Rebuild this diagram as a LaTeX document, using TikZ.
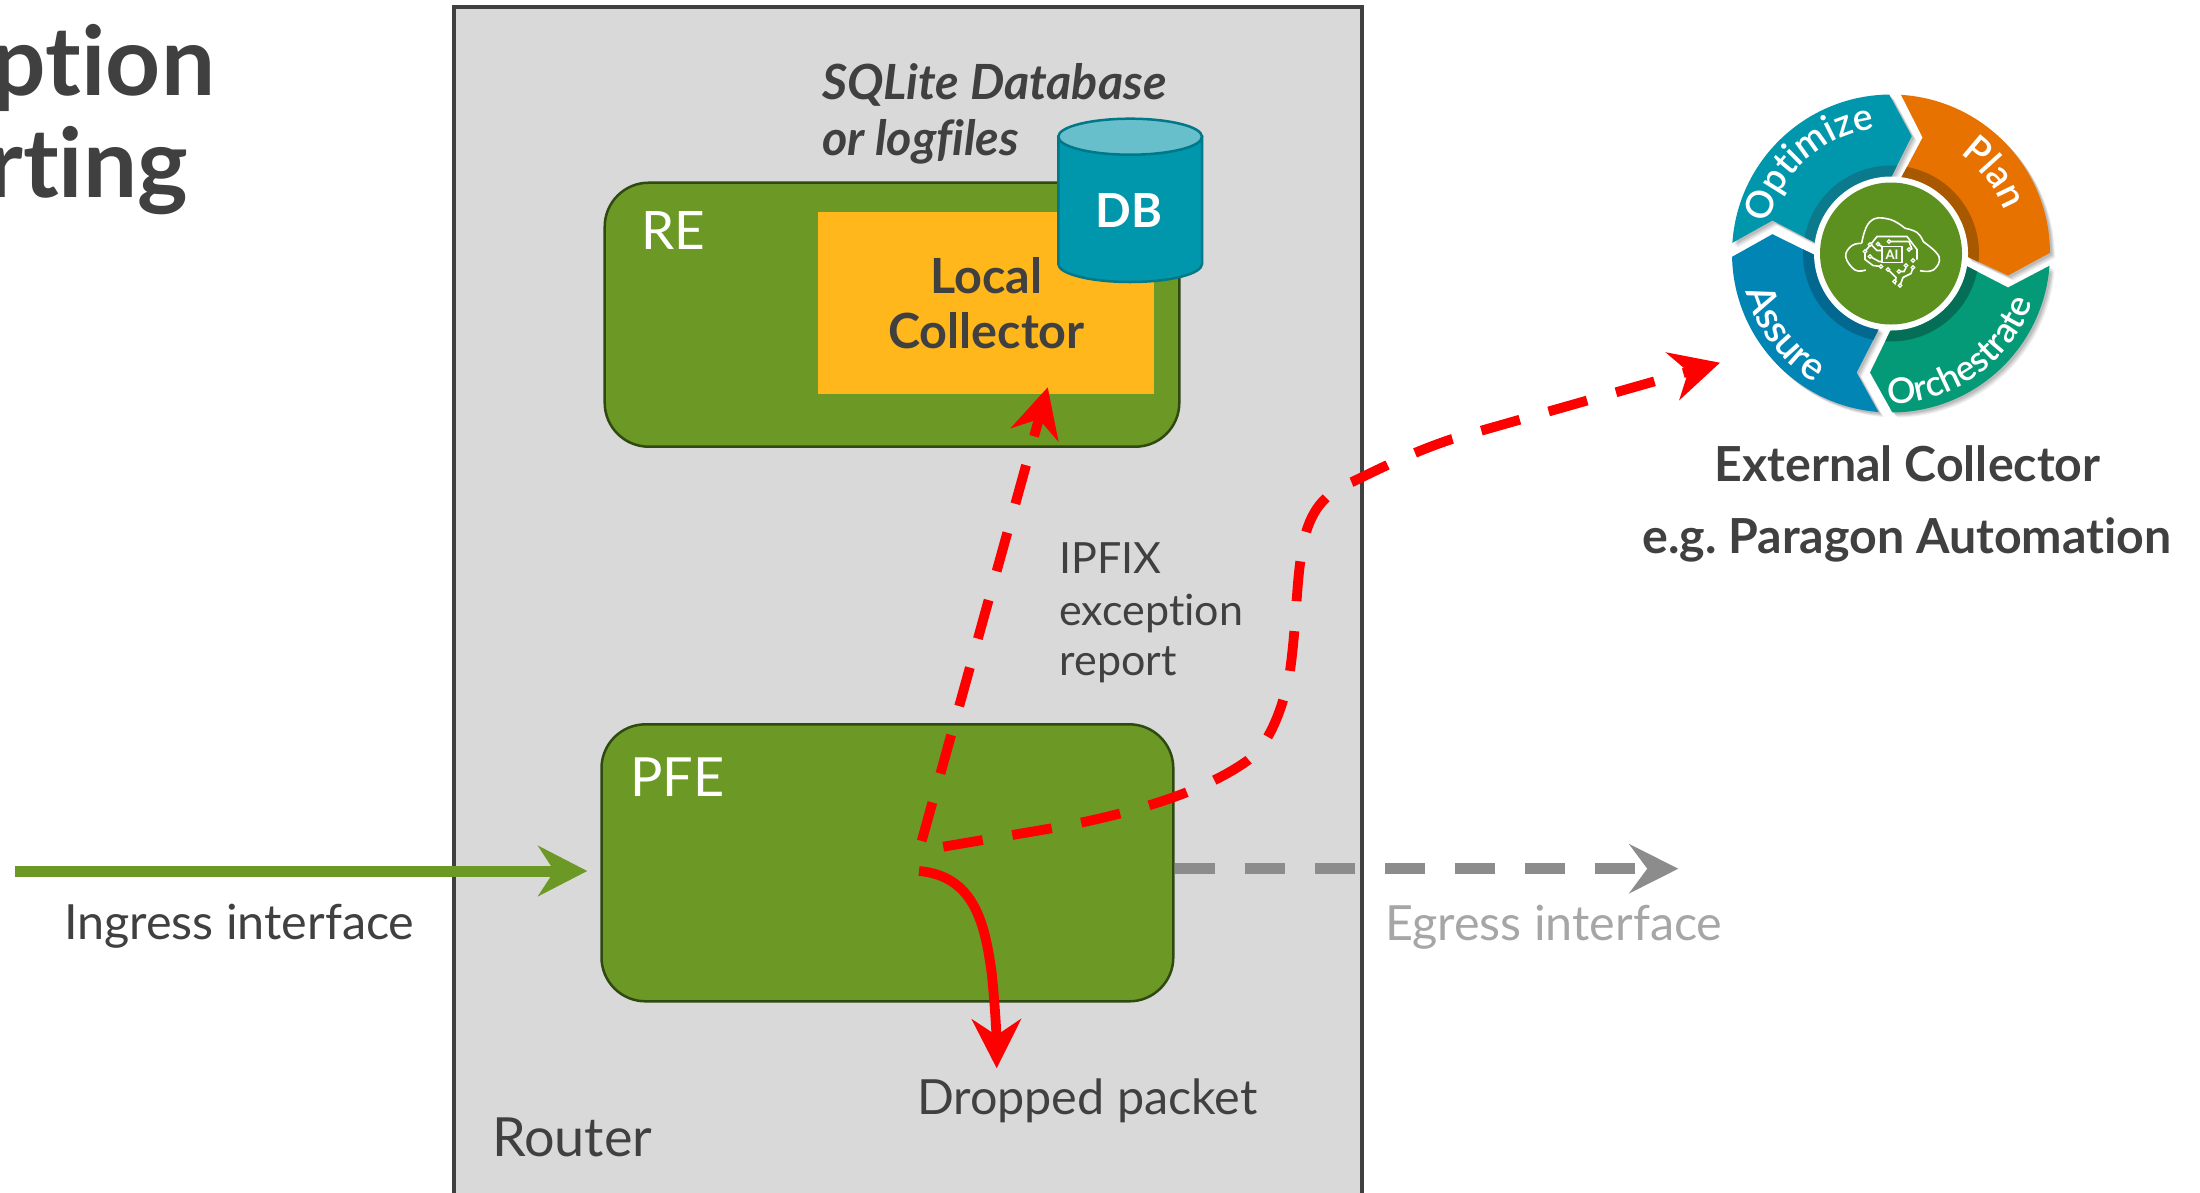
\documentclass[tikz,border=0pt]{standalone}
\usepackage{fontspec}
\setmainfont{Lato}[Ligatures=NoCommon]
\newfontfamily\latosemi{Lato}[UprightFont=* Semibold,ItalicFont=* Semibold Italic,Ligatures=NoCommon]
\usetikzlibrary{arrows.meta,decorations.text}
\definecolor{txt}{HTML}{404040}
\definecolor{greenbox}{HTML}{6C9826}
\definecolor{greenedge}{HTML}{2F4A10}
\definecolor{routerfill}{HTML}{D9D9D9}
\definecolor{routeredge}{HTML}{404040}
\definecolor{lc}{HTML}{FFB71B}
\definecolor{dbbody}{HTML}{0097AC}
\definecolor{dbtop}{HTML}{67BFCB}
\definecolor{dbedge}{HTML}{00788A}
\definecolor{greyline}{HTML}{8C8C8C}
\definecolor{greytxt}{HTML}{A6A6A6}
\definecolor{redline}{HTML}{FF0000}
\definecolor{cOpt}{HTML}{0097AC}\definecolor{cOptD}{HTML}{0B7A8C}
\definecolor{cPlan}{HTML}{E87200}\definecolor{cPlanD}{HTML}{A85900}
\definecolor{cOrc}{HTML}{059A77}\definecolor{cOrcD}{HTML}{056E57}
\definecolor{cAss}{HTML}{0085B4}\definecolor{cAssD}{HTML}{03688F}
\definecolor{cCen}{HTML}{5C9120}
\newcommand{\fs}[1]{\fontsize{#1}{#1}\selectfont}
\newcommand{\secOpt}{(176.15:159) arc (176.15:90.65:159) -- (20.7,117.3) -- (0,76) arc (90:172:76) -- (-118.6,33) -- cycle}
\newcommand{\secPlan}{(86.4:159) arc (86.4:0.25:159) -- (117,-22) -- (76,-3) arc (-2.3:82.5:76) -- (31.6,116) -- cycle}
\newcommand{\secOrc}{(-4.4:159) arc (-4.4:-89.5:159) -- (-21,-119) -- (0,-76) arc (-90:-9.3:76) -- (117,-34) -- cycle}
\newcommand{\secAss}{(265.5:159) arc (265.5:181.2:159) -- (-118.6,19.3) -- (-76,-1.7) arc (181.3:261:76) -- (-34.4,-119) -- cycle}
\tikzset{
  x=1pt,y=1pt,
  label/.style={inner sep=0pt,outer sep=0pt,text=txt,font=\fs{48.5}},
  boxgreen/.style={draw=greenedge,line width=2.5pt,fill=greenbox,rounded corners=44pt,inner sep=0pt,outer sep=0pt},
  redsolid/.style={draw=redline,line width=9.8pt,-{Stealth[length=49pt,width=49pt,inset=16pt]}},
  reddash/.style={redsolid,dash pattern=on 40pt off 30pt},
  greydash/.style={draw=greyline,line width=10.5pt,dash pattern=on 40pt off 30pt,-{Stealth[length=49pt,width=49pt,inset=18pt]}},
  ingress/.style={draw=greenbox,line width=11pt,-{Stealth[length=49pt,width=50pt,inset=16pt]}},
  wheeltxt/.style 2 args={decorate,decoration={text along path,text align={center},text={|\latosemi\fs{#1}\color{white}|#2}}},
  icon/.style={draw=white,line width=1.6pt,fill=none},
  dot/.style={draw=white,line width=1.2pt,fill=cCen},
}
\begin{document}
\begin{tikzpicture}
\useasboundingbox (0,0) rectangle (2200,-1192);
% title
\node[label,anchor=base east,font=\bfseries\fs{96}] (titleA) at (215,-95) {ption};
\node[label,anchor=base east,font=\bfseries\fs{96}] (titleB) at (188,-197) {rting};
% router
\node[draw=routeredge,fill=routerfill,line width=4pt,inner sep=0pt,outer sep=0pt,minimum width=908pt,minimum height=1203pt,anchor=north west] (router) at (454,-7) {};
\node[label,anchor=base west,font=\fs{54}] (routerlabel) at (492,-1156) {Router};
% RE
\node[boxgreen,minimum width=574.6pt,minimum height=264pt,anchor=north west] (re) at (604.7,-182.7) {};
\node[label,anchor=base west,text=white,font=\fs{53}] (relabel) at (641,-249.3) {RE};
\node[fill=lc,minimum width=335.4pt,minimum height=181.4pt,inner sep=0pt,outer sep=0pt,anchor=north west] (lc) at (818.3,-212.3) {};
\node[label,anchor=base,font=\bfseries\fs{48.5}] (lcA) at (986.5,-293) {Local};
\node[label,anchor=base,font=\bfseries\fs{48.5}] (lcB) at (986.5,-348) {Collector};
% DB
\path[fill=dbbody,draw=dbedge,line width=2.5pt] (1058.3,-136.7) -- (1058.3,-264) arc[start angle=180,end angle=360,x radius=71.85,y radius=18] -- (1202,-136.7) -- cycle;
\path[fill=dbtop,draw=dbedge,line width=2.5pt] (1130.15,-136.7) ellipse[x radius=71.85,y radius=18];
\node[label,anchor=base,text=white,font=\bfseries\fs{47}] (db) at (1129,-227.3) {DB};
\node[label,anchor=base west,font=\bfseries\itshape\fs{48.5}] (sqlA) at (822,-99.5) {SQLite Database};
\node[label,anchor=base west,font=\bfseries\itshape\fs{48.5}] (sqlB) at (822,-155.5) {or logfiles};
% PFE
\node[boxgreen,minimum width=571.8pt,minimum height=277pt,anchor=north west] (pfe) at (601.5,-724.3) {};
\node[label,anchor=base west,text=white,font=\fs{54}] (pfelabel) at (630,-796) {PFE};
% labels
\node[label,anchor=base west,font=\fs{43}] (ipA) at (1059.5,-573) {IPFIX};
\node[label,anchor=base west,font=\fs{43}] (ipB) at (1059.5,-625) {exception};
\node[label,anchor=base west,font=\fs{43}] (ipC) at (1059.5,-675) {report};
\node[label,anchor=base west] (ingresslabel) at (64,-939) {Ingress interface};
\node[label,anchor=base west,text=greytxt] (egresslabel) at (1385,-940) {Egress interface};
\node[label,anchor=base west] (droplabel) at (917,-1114) {Dropped packet};
\node[label,anchor=base,font=\bfseries\fs{48.3}] (extA) at (1907.5,-481.5) {External Collector};
\node[label,anchor=base,font=\bfseries\fs{48.3}] (extB) at (1907,-553.5) {e.g.\ Paragon Automation};
% coordinates
\coordinate (ingStart) at (15,-871);
\coordinate (ingTip) at (587.3,-871);
\coordinate (egStart) at (1175,-868.7);
\coordinate (egTip) at (1678.3,-868.7);
\coordinate (dropStart) at (919,-871);
\coordinate (dropTip) at (996.7,-1068.3);
\coordinate (upStart) at (921.7,-841);
\coordinate (upTip) at (1047.7,-387.3);
\coordinate (outStart) at (943.3,-846.7);
\coordinate (outTip) at (1720,-362.7);
% connectors
\draw[ingress] (ingStart) -- (ingTip);
\draw[greydash] (egStart) -- (egTip);
\draw[redsolid] (dropStart) .. controls (975,-876) and (985,-925) .. (991.7,-973) .. controls (995,-1005) and (996.5,-1035) .. (dropTip);
\draw[reddash] (upStart) -- (upTip);
\draw[reddash] (outStart) -- (1051.7,-828.3) .. controls (1120,-816) and (1200,-795) .. (1248.3,-760)
  .. controls (1272,-742) and (1285,-700) .. (1290,-671)
  .. controls (1297,-620) and (1296,-580) .. (1303,-545)
  .. controls (1308,-520) and (1318,-495) .. (1352,-482)
  .. controls (1375,-471) and (1410,-453) .. (1452,-439)
  -- (outTip);
% wheel
\begin{scope}[shift={(1891,-253.5)}]
  \foreach \o/\a in {5/.06,4/.07,3/.08,2/.09}{
    \fill[black,opacity=\a,shift={(\o,-\o)}] \secOpt;
    \fill[black,opacity=\a,shift={(\o,-\o)}] \secPlan;
    \fill[black,opacity=\a,shift={(\o,-\o)}] \secOrc;
    \fill[black,opacity=\a,shift={(\o,-\o)}] \secAss;
  }
  \fill[cOpt] \secOpt;
  \fill[cPlan] \secPlan;
  \fill[cOrc] \secOrc;
  \fill[cAss] \secAss;
  \begin{scope}\clip \secOpt; \fill[cOptD] (0,0) circle (88); \end{scope}
  \begin{scope}\clip \secPlan; \fill[cPlanD] (0,0) circle (88); \end{scope}
  \begin{scope}\clip \secOrc; \fill[cOrcD] (0,0) circle (88); \end{scope}
  \begin{scope}\clip \secAss; \fill[cAssD] (0,0) circle (88); \end{scope}
  \fill[white] (0,0) circle (77);
  \fill[cCen] (0,0) circle (71);
  \path[wheeltxt={37.5}{Optimize}] (172:126) arc (172:92:126);
  \path[wheeltxt={38}{Plan}] (62:121) arc (62:14:121);
  \path[wheeltxt={39}{Assure}] (190:150) arc (190:244:150);
  \path[wheeltxt={35.5}{Orchestrate}] (266:150) arc (266:344:150);
  % icon
  \draw[icon] plot[smooth,tension=.7] coordinates {(-25.3,-16.5) (-36,-16.5) (-45.3,-3.2) (-39.3,7.8) (-29.3,10.2)};
  \draw[icon] plot[smooth,tension=.8] coordinates {(-29.3,10.2) (-21,31.8) (-2.7,34.5) (14,25.2)};
  \draw[icon] plot[smooth,tension=.8] coordinates {(14,25.2) (26,21) (32.3,11.8)};
  \draw[icon] plot[smooth,tension=.7] coordinates {(32.3,11.8) (48,-3.2) (42.3,-16.5) (29,-17.2)};
  \draw[icon] (-26,2) -- (-14,17) -- (16,17) -- (26,4) -- (26,-6);
  \draw[icon] (-26,2) -- (-26,-6) -- (-18,-12) -- (-10,-13);
  \draw[icon] (-9,7) rectangle (11,-9);
  \node[inner sep=0pt,text=white,font=\bfseries\fs{13}] (ai) at (1,-1.5) {AI};
  \draw[icon] (-20,9) -- (-14,3) -- (-9,3);
  \draw[icon] (-13,9) -- (-9,7);
  \draw[icon] (-2,12) -- (18,12) -- (21,4);
  \draw[icon] (-21,-3) -- (-12,-8) -- (-9,-8);
  \draw[icon] (-3,-16) -- (5,-24) -- (4,-31);
  \draw[icon] (8,-18) -- (13,-18) -- (15,-14);
  \draw[icon] (22,-14) -- (20,-20) -- (12,-24) -- (9,-32);
  \foreach \p in {(-21,9),(-13,9.5),(-2,12),(18,4),(-26,2),(-21,-3),(-10,-13),(22,-7),(15,-12),(22,-14),(8,-18),(-3,-16),(3.5,-28),(9,-32)}
    \draw[dot] \p circle (1.8);
\end{scope}
\end{tikzpicture}
\end{document}
